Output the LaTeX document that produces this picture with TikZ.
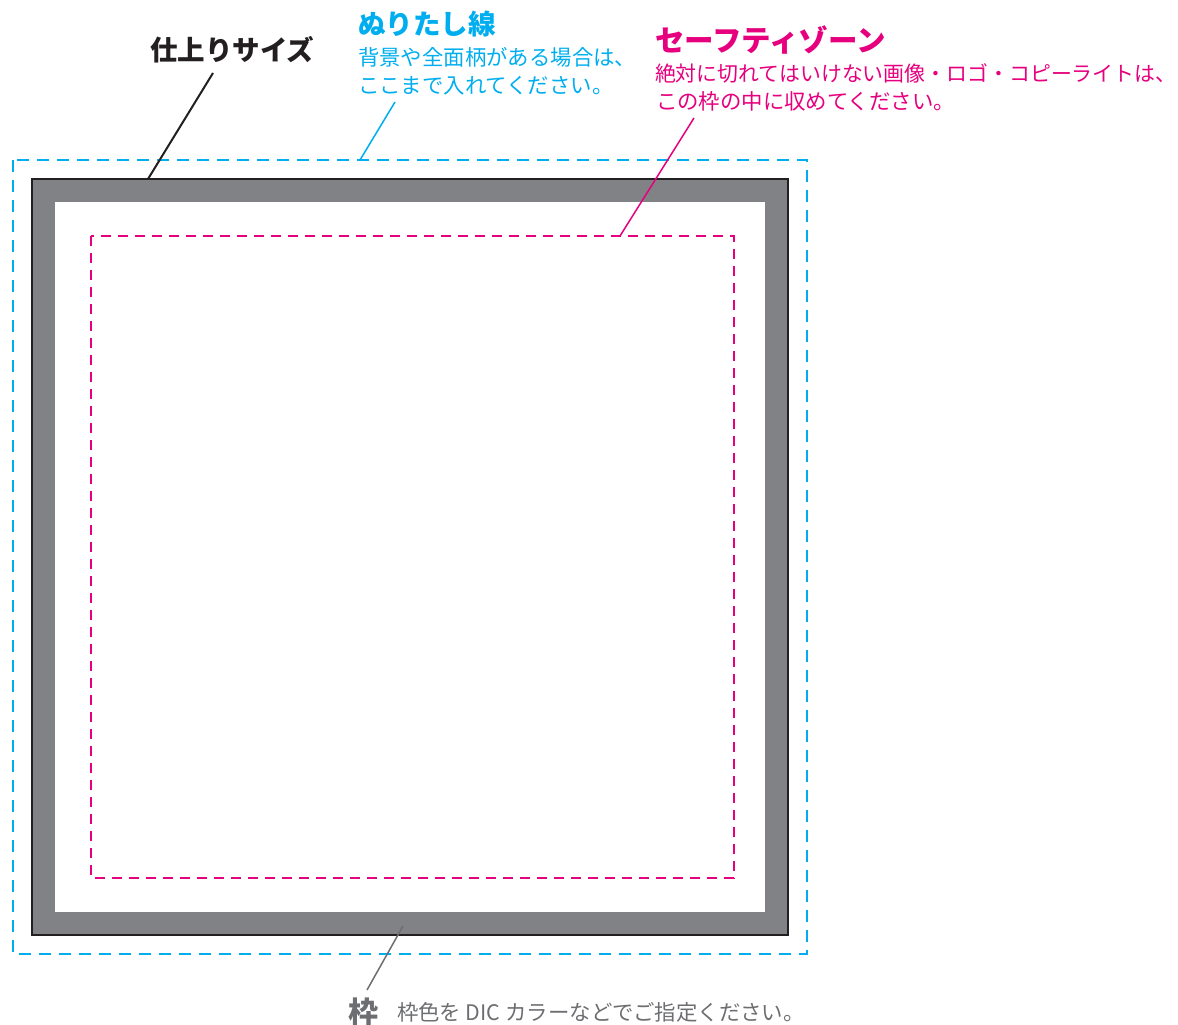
\documentclass[tikz,border=0pt]{standalone}
\usepackage{fontspec}
\setmainfont{Noto Sans CJK JP}
\definecolor{bleedcyan}{RGB}{0,174,239}
\definecolor{safemag}{RGB}{230,0,126}
\definecolor{framegray}{RGB}{128,130,133}
\definecolor{textgray}{RGB}{109,110,113}
\definecolor{inkblack}{RGB}{35,31,32}
\tikzset{
  lbl/.style={anchor=west,inner sep=0pt,outer sep=0pt},
  ttl/.style={lbl,font=\fontsize{27.5}{30}\selectfont\bfseries},
  body/.style={lbl,font=\fontsize{21.4}{24}\selectfont},
  leader/.style={line width=1.5pt},
}
\begin{document}
\begin{tikzpicture}[x=1pt,y=-1pt]
\useasboundingbox (0,0) rectangle (1178,1025);
% bleed line
\draw[bleedcyan,line width=1.8pt,dash pattern=on 12pt off 8pt] (13,160) rectangle (807,954);
% frame
\path[fill=framegray,draw=inkblack,line width=2.5pt] (32,179) rectangle (788,935);
\path[fill=white] (55,202) rectangle (765,912);
% safety zone
\draw[safemag,line width=1.6pt,dash pattern=on 10pt off 7pt] (91,236) rectangle (734,878);

% labels
\node[ttl,text=inkblack] (shiage) at (150,50) {仕上りサイズ};
\node[ttl,text=bleedcyan] (nuri) at (358,24) {ぬりたし線};
\node[body,text=bleedcyan] (nuriA) at (358,57) {背景や全面柄がある場合は、};
\node[body,text=bleedcyan] (nuriB) at (358,86) {ここまで入れてください。};
\node[ttl,text=safemag,font=\fontsize{29.5}{32}\selectfont\bfseries] (safe) at (655,40) {セーフティゾーン};
\node[body,text=safemag,font=\fontsize{20.9}{24}\selectfont] (safeA) at (655,73) {絶対に切れてはいけない画像・ロゴ・コピーライトは、};
\node[body,text=safemag] (safeB) at (656,101) {この枠の中に収めてください。};
\node[lbl,text=textgray,font=\fontsize{30}{32}\selectfont\bfseries] (waku) at (348,1012) {枠};
\node[body,text=textgray] (wakuA) at (397,1012) {枠色を DIC カラーなどでご指定ください。};

% leader coordinates
\coordinate (shiageS) at (148,179);
\coordinate (shiageE) at (213,73);
\coordinate (nuriS) at (360,160);
\coordinate (nuriE) at (395,102);
\coordinate (safeS) at (620,236);
\coordinate (safeE) at (694,118);
\coordinate (wakuS) at (403,926);
\coordinate (wakuE) at (367,990);

\draw[leader,inkblack,line width=2pt] (shiageS) -- (shiageE);
\draw[leader,bleedcyan] (nuriS) -- (nuriE);
\draw[leader,safemag] (safeS) -- (safeE);
\draw[leader,textgray] (wakuS) -- (wakuE);
\end{tikzpicture}
\end{document}
